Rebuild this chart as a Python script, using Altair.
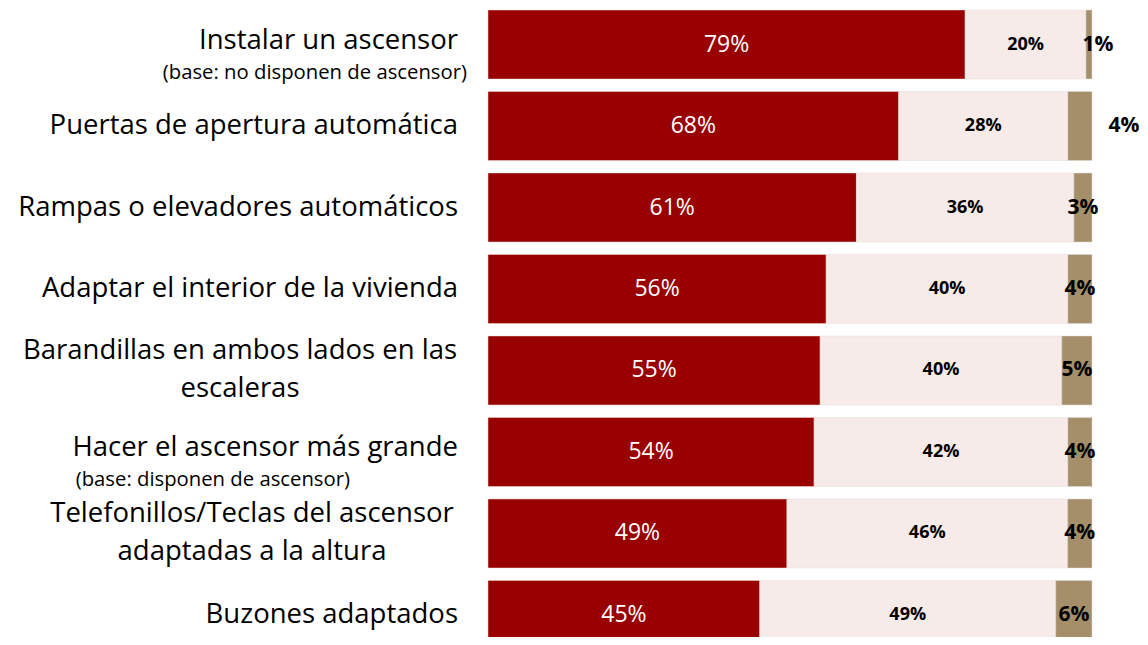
import altair as alt
import pandas as pd

categories = [
    "Instalar un ascensor",
    "Puertas de apertura automática",
    "Rampas o elevadores automáticos",
    "Adaptar el interior de la vivienda",
    "Barandillas en ambos lados en las escaleras",
    "Hacer el ascensor más grande",
    "Telefonillos/Teclas del ascensor adaptadas a la altura",
    "Buzones adaptados",
]
label_text = [
    "Instalar un ascensor",
    "Puertas de apertura automática",
    "Rampas o elevadores automáticos",
    "Adaptar el interior de la vivienda",
    "Barandillas en ambos lados en las\nescaleras",
    "Hacer el ascensor más grande",
    "Telefonillos/Teclas del ascensor\nadaptadas a la altura",
    "Buzones adaptados",
]
sub_text = ["(base: no disponen de ascensor)", "", "", "", "", "(base: disponen de ascensor)", "", ""]

series = ["Sí", "No", "NS/NC"]
si = [79, 68, 61, 56, 55, 54, 49, 45]
no = [20, 28, 36, 40, 40, 42, 46, 49]
nsnc = [1, 4, 3, 4, 5, 4, 4, 6]
colors = ["#990000", "#F6EBE9", "#A58F6B"]

rows = []
for i, c in enumerate(categories):
    for j, (s, vals) in enumerate(zip(series, [si, no, nsnc])):
        rows.append({"cat": c, "serie": s, "ord": j, "value": vals[i], "row": i})
df = pd.DataFrame(rows)

lab = pd.DataFrame({"cat": categories, "label": label_text, "sub": sub_text, "row": list(range(8))})

FONT = "Open Sans"
CAT_SIZE = 27.5
SUB_SIZE = 20.3

yenc = alt.Y("cat:N", sort=categories, axis=None,
             scale=alt.Scale(range=[2, 641.5], paddingInner=0.153, paddingOuter=0))
xscale = alt.Scale(domain=[0, 1], nice=False, zero=True)

base = alt.Chart(df).transform_stack(
    stack="value", groupby=["cat"], as_=["x0", "x1"], offset="normalize",
    sort=[alt.SortField("ord", order="ascending")]
).transform_calculate(mid="(datum.x0 + datum.x1) / 2", txt="datum.value + '%'")

bars = base.mark_bar(stroke="#e4dcda", strokeWidth=0.5).encode(
    y=yenc,
    x=alt.X("x0:Q", scale=xscale, axis=None),
    x2="x1:Q",
    color=alt.Color("serie:N", scale=alt.Scale(domain=series, range=colors), legend=None),
)

def vlabel(flt, size, color, weight="normal", dx=0):
    return base.transform_filter(flt).mark_text(
        font=FONT, fontSize=size, fontWeight=weight, color=color,
        baseline="middle", align="center", dx=dx
    ).encode(y=yenc, x=alt.X("mid:Q", scale=xscale, axis=None), text="txt:N")

txt_si = vlabel("datum.ord == 0", 23, "white")
txt_no = vlabel("datum.ord == 1", 18, "black", "bold")
txt_ns = vlabel("datum.ord == 2 && datum.row > 1", 21, "black", "bold")
txt_ns0 = vlabel("datum.ord == 2 && datum.row == 0", 21, "black", "bold", dx=9)
txt_ns1 = vlabel("datum.ord == 2 && datum.row == 1", 21, "black", "bold", dx=44)

lbase = alt.Chart(lab).transform_calculate(lines="split(datum.label, '\\n')")
x0 = alt.X("zero:Q", scale=xscale, axis=None)

def catlabel(flt, field, size, align, dx, dy=0):
    return lbase.transform_filter(flt).transform_calculate(zero="0").mark_text(
        font=FONT, fontSize=size, color="black", align=align, baseline="middle",
        dx=dx, dy=dy, lineHeight=38
    ).encode(y=yenc, x=x0, text=field)

cat_plain = catlabel("indexof(datum.label, '\\n') < 0 && datum.sub == ''", "label:N", CAT_SIZE, "right", -30)
cat_withsub = catlabel("datum.sub != ''", "label:N", CAT_SIZE, "right", -30, -4)
cat_multi4 = catlabel("datum.row == 4", "lines:N", CAT_SIZE, "center", -248, -19)
cat_multi6 = catlabel("datum.row == 6", "lines:N", CAT_SIZE, "center", -236, -19)
sub0 = catlabel("datum.row == 0", "sub:N", SUB_SIZE, "right", -21, 28)
sub5 = catlabel("datum.row == 5", "sub:N", SUB_SIZE, "right", -138, 28)

chart = alt.layer(
    bars, txt_si, txt_no, txt_ns, txt_ns0, txt_ns1,
    cat_plain, cat_withsub, cat_multi4, cat_multi6, sub0, sub5
).properties(
    width=604, height=629,
    background="white",
    autosize=alt.AutoSizeParams(type="none"),
    padding={"left": 480, "top": 0, "right": 48, "bottom": 0},
).configure_view(strokeWidth=0, stroke=None)

chart.save("out.html", embed_options={"renderer": "svg", "actions": False})
